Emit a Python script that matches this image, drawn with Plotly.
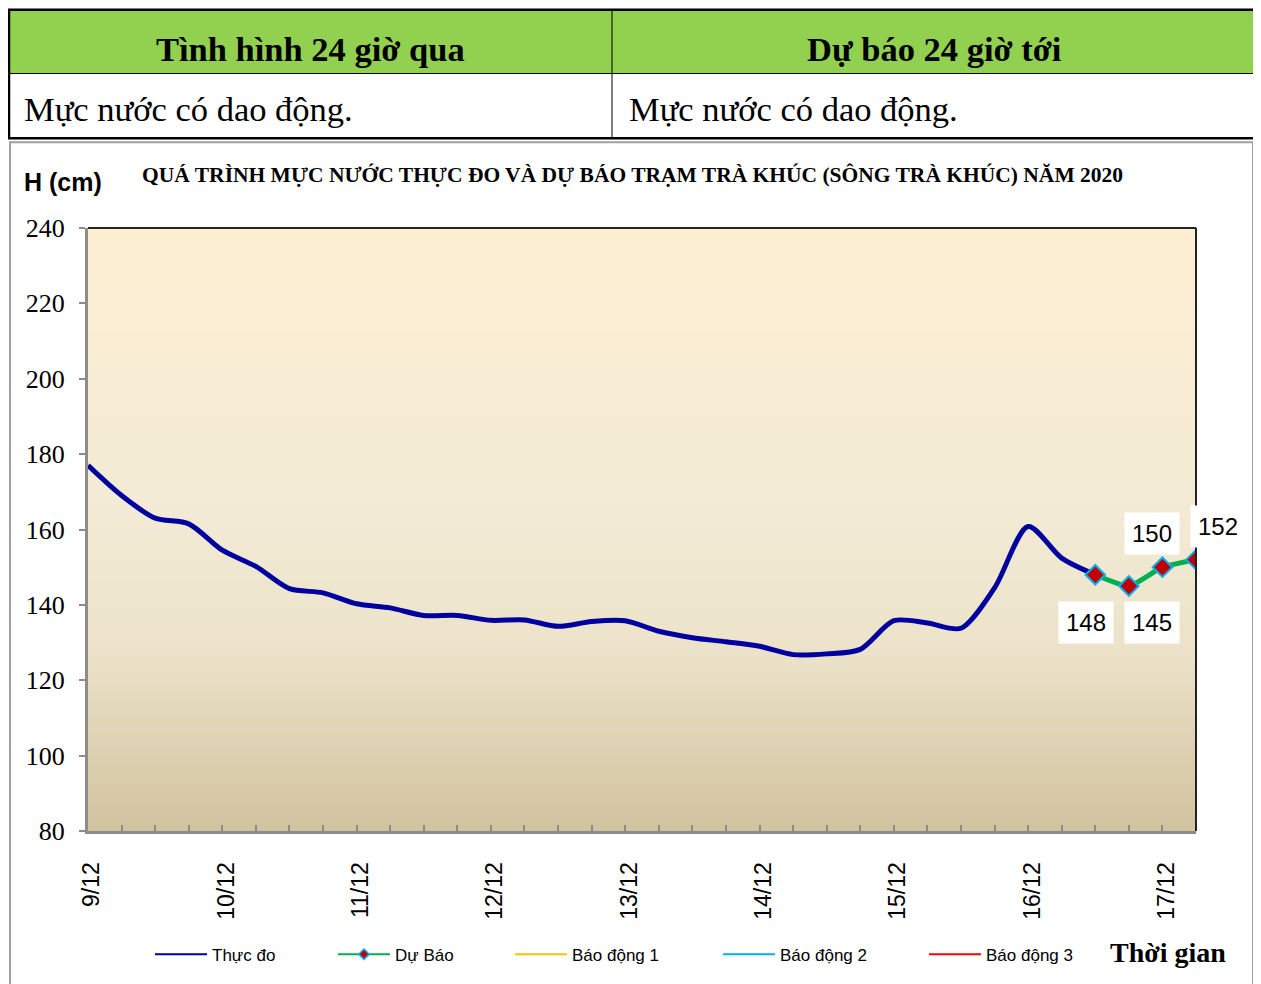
"""
Mực nước trạm Trà Khúc: thực đo và dự báo (Plotly).
"""

import pandas as pd
import plotly.graph_objects as go

# ---- dữ liệu ----
obs_time = pd.date_range("2020-12-09 00:00", "2020-12-16 12:00", freq="6h")
obs_level = [
    177, 169, 163, 161.5, 154.5, 150.2, 144.3, 143.2,   # 9/12 - 10/12
    140.3, 139.2, 137.2, 137.2, 135.9, 136.0, 134.3, 135.6,
    135.8, 133.0, 131.3, 130.2, 129.0, 126.8, 127.0, 128.2,
    135.8, 135.2, 133.8, 144.5, 160.8, 152.4, 148.0,
]
fc_time = pd.date_range("2020-12-16 12:00", "2020-12-17 06:00", freq="6h")
fc_level = [148, 145, 150, 152]

alarm_time = [obs_time[0], fc_time[-1]]
alarm1 = [350, 350]
alarm2 = [500, 500]
alarm3 = [650, 650]

SERIF = "Liberation Serif, Times New Roman, serif"
SANS = "Liberation Sans, Arial, sans-serif"

# vùng vẽ theo pixel (toạ độ ảnh gốc); trang có lề 8px
OFF = 8
FW, FH = 1261 - OFF, 984 - OFF
L, R, T, B = 88, 1196, 228, 833
W, H = R - L, B - T


def px_x(p):
    return (p - L) / W


def px_y(p):
    return (B - p) / H


fig = go.Figure()

fig.add_trace(go.Scatter(
    x=obs_time, y=obs_level, name="Thực đo", mode="lines",
    line=dict(color="#0000A0", width=5, shape="spline", smoothing=0.8),
    showlegend=False,
))
fig.add_trace(go.Scatter(
    x=fc_time, y=fc_level, name="Dự Báo", mode="lines+markers",
    line=dict(color="#00B050", width=5, shape="spline", smoothing=0.5),
    marker=dict(symbol="diamond", size=15, color="#C00000",
                line=dict(color="#00B0F0", width=2)),
    showlegend=False,
))

# mục chú giải (nét mảnh như bản gốc)
fig.add_trace(go.Scatter(x=[None], y=[None], name="Thực đo", mode="lines",
                         line=dict(color="#0000A0", width=2), legend="legend"))
fig.add_trace(go.Scatter(x=[None], y=[None], name="Dự Báo", mode="lines+markers",
                         line=dict(color="#00B050", width=2),
                         marker=dict(symbol="diamond", size=8, color="#C00000",
                                     line=dict(color="#00B0F0", width=1.5)),
                         legend="legend2"))
for name, vals, col, lg in [("Báo động 1", alarm1, "#FFC000", "legend3"),
                            ("Báo động 2", alarm2, "#00B0F0", "legend4"),
                            ("Báo động 3", alarm3, "#FF0000", "legend5")]:
    fig.add_trace(go.Scatter(
        x=alarm_time, y=vals, name=name, mode="lines",
        line=dict(color=col, width=2), legend=lg,
    ))

# nhãn giá trị dự báo
shifts = [(-9, -48), (23, -36), (-10, 34), (22, 33)]
for t, v, (dx, dy) in zip(fc_time, fc_level, shifts):
    fig.add_annotation(
        x=t, y=v, xref="x", yref="y", text=f"{v}", showarrow=False,
        xshift=dx, yshift=dy, bgcolor="white", borderpad=7,
        font=dict(family=SANS, size=24, color="black"),
    )

# nền chuyển màu của vùng vẽ
stops = [(0.0, (254, 239, 211)), (0.45, (243, 235, 213)),
         (0.7, (236, 227, 202)), (1.0, (210, 195, 159))]
n = 80
for i in range(n):
    f = (i + 0.5) / n
    for (a, ca), (b, cb) in zip(stops[:-1], stops[1:]):
        if a <= f <= b:
            k = (f - a) / (b - a)
            c = [round(ca[j] + (cb[j] - ca[j]) * k) for j in range(3)]
            break
    fig.add_shape(type="rect", xref="x domain", yref="y domain",
                  x0=0, x1=1, y0=1 - (i + 1) / n, y1=1 - i / n + 0.002,
                  fillcolor=f"rgb({c[0]},{c[1]},{c[2]})", line_width=0, layer="below")

# viền trên/phải của vùng vẽ
fig.add_shape(type="line", xref="paper", yref="paper", x0=0, x1=1, y0=1, y1=1,
              line=dict(color="#222", width=2))
fig.add_shape(type="line", xref="paper", yref="paper", x0=1, x1=1, y0=0, y1=1,
              line=dict(color="#222", width=2))

# khung biểu đồ
fig.add_shape(type="rect", xref="paper", yref="paper",
              x0=px_x(10), x1=px_x(1253), y0=px_y(992), y1=px_y(142),
              line=dict(color="#A0A0A0", width=2))

# bảng phía trên
fig.add_shape(type="rect", xref="paper", yref="paper",
              x0=px_x(9), x1=px_x(1256), y0=px_y(73), y1=px_y(9),
              fillcolor="#92D050", line_width=0)
fig.add_shape(type="line", xref="paper", yref="paper",
              x0=px_x(9), x1=px_x(1256), y0=px_y(73), y1=px_y(73),
              line=dict(color="black", width=1))
fig.add_shape(type="line", xref="paper", yref="paper",
              x0=px_x(612), x1=px_x(612), y0=px_y(138), y1=px_y(9),
              line=dict(color="black", width=1))
fig.add_shape(type="rect", xref="paper", yref="paper",
              x0=px_x(9), x1=px_x(1256), y0=px_y(138), y1=px_y(9),
              line=dict(color="black", width=2.5))

table_text = [
    ("<b>Tình hình 24 giờ qua</b>", 310, 48, "center"),
    ("<b>Dự báo 24 giờ tới</b>", 934, 48, "center"),
    ("Mực nước có dao động.", 22, 109, "left"),
    ("Mực nước có dao động.", 627, 109, "left"),
]
for txt, x, y, anc in table_text:
    fig.add_annotation(x=px_x(x), y=px_y(y), xref="paper", yref="paper",
                       text=txt, showarrow=False, xanchor=anc, yanchor="middle",
                       font=dict(family=SERIF, size=34.5, color="black"))

fig.add_annotation(
    x=px_x(632), y=px_y(175), xref="paper", yref="paper", showarrow=False,
    yanchor="middle",
    text="<b>QUÁ TRÌNH MỰC NƯỚC THỰC ĐO VÀ DỰ BÁO TRẠM TRÀ KHÚC (SÔNG TRÀ KHÚC) NĂM 2020</b>",
    font=dict(family=SERIF, size=21.5, color="black"),
)
fig.add_annotation(
    x=px_x(22), y=px_y(182), xref="paper", yref="paper", showarrow=False,
    xanchor="left", yanchor="middle", text="<b>H (cm)</b>",
    font=dict(family=SANS, size=25, color="black"),
)
fig.add_annotation(
    x=px_x(1228), y=px_y(955), xref="paper", yref="paper", showarrow=False,
    xanchor="right", yanchor="middle", text="<b>Thời gian</b>",
    font=dict(family=SERIF, size=28, color="black"),
)

legend_style = dict(orientation="h", yanchor="middle", xanchor="left",
                    bgcolor="rgba(0,0,0,0)", font=dict(family=SANS, size=17, color="black"),
                    itemwidth=52)
legend_pos = {"legend": 150, "legend2": 333, "legend3": 510, "legend4": 718, "legend5": 924}
legends = {k: dict(legend_style, x=px_x(p), y=px_y(957)) for k, p in legend_pos.items()}

fig.update_layout(
    width=FW, height=FH, autosize=False,
    margin=dict(l=L - OFF, r=FW - (R - OFF), t=T - OFF, b=FH - (B - OFF)),
    paper_bgcolor="white", plot_bgcolor="rgba(0,0,0,0)",
    showlegend=True,
    **legends,
)
fig.update_xaxes(
    range=[obs_time[0], fc_time[-1]],
    dtick=86400000, tickformat="%-d/%m", tickangle=-90,
    ticks="inside", ticklen=6, tickcolor="#8C8C8C", tickwidth=2,
    minor=dict(dtick=6 * 3600000, ticks="inside", ticklen=6, tickcolor="#8C8C8C", tickwidth=2),
    showline=True, linecolor="#8C8C8C", linewidth=3,
    showgrid=False, zeroline=False,
    tickfont=dict(family=SANS, size=23, color="black"),
    ticklabelstandoff=19, ticklabelshift=4,
)
fig.update_yaxes(
    range=[80, 240], dtick=20,
    ticks="outside", ticklen=6, tickcolor="#8C8C8C", tickwidth=2,
    showline=True, linecolor="#8C8C8C", linewidth=3,
    showgrid=False, zeroline=False,
    tickfont=dict(family=SERIF, size=26, color="black"),
    ticklabelstandoff=9,
)

fig.write_html("out.html")
